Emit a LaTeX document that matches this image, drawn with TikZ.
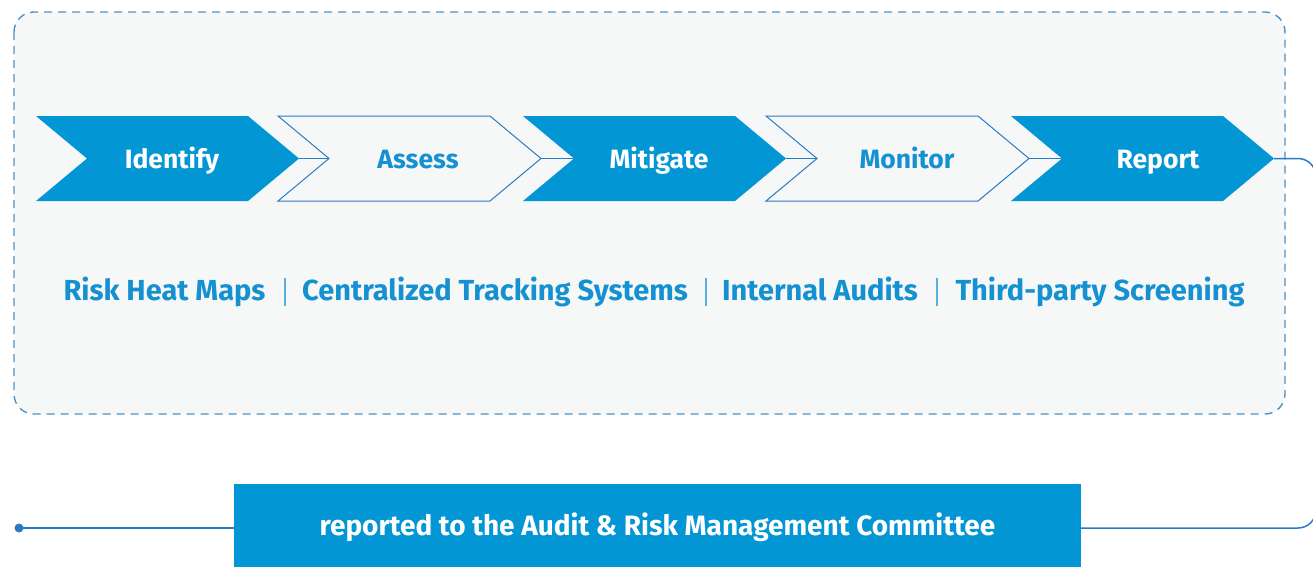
\documentclass[tikz,border=0pt]{standalone}
\usepackage{fontspec}
\setmainfont{Fira Sans}
\definecolor{bg}{HTML}{F6F8F8}
\definecolor{fillblue}{HTML}{0396D4}
\definecolor{lineblue}{HTML}{2A7BC4}
\definecolor{textblue}{HTML}{1590D1}
\definecolor{dashblue}{HTML}{4F92C9}
\definecolor{sepblue}{HTML}{5AAEDD}
\newcommand\mychev[3]{%
  \draw[#2] (#1,116) -- ++(212,0) -- ++(51,42.5) -- ++(-51,42.5) -- ++(-212,0) -- ++(51,-42.5) -- cycle;
  \coordinate (#3-tip) at ({#1+263},158.5);
  \coordinate (#3-notch) at ({#1+51},158.5);}
\begin{document}
\begin{tikzpicture}[x=1pt,y=-1pt,
  filledchev/.style={fill=fillblue,draw=none},
  outlinechev/.style={draw=lineblue,line width=1pt,fill=bg},
  chevtextw/.style={anchor=base,font=\fontsize{26.5}{30}\selectfont\bfseries,text=white},
  chevtextb/.style={anchor=base,font=\fontsize{26.5}{30}\selectfont\bfseries,text=textblue},
  tooltext/.style={anchor=base,font=\fontsize{29}{33}\selectfont\bfseries,text=textblue},
  joinline/.style={draw=lineblue,line width=1pt},
  flowline/.style={draw=lineblue,line width=1.5pt},
  sepline/.style={draw=sepblue,line width=1.2pt}]
\useasboundingbox (0,0) rectangle (1313,566);
\fill[white] (0,0) rectangle (1313,566);
% dashed panel
\draw[dashblue,fill=bg,line width=1.4pt,dash pattern=on 8pt off 6pt,rounded corners=20pt]
  (14,12) rectangle (1285,414);
% chevrons
\mychev{36}{filledchev}{c1}
\mychev{278}{outlinechev}{c2}
\mychev{523}{filledchev}{c3}
\mychev{766}{outlinechev}{c4}
\mychev{1011}{filledchev}{c5}
\draw[joinline] (c1-tip) -- (c2-notch);
\draw[joinline] (c2-tip) -- (c3-notch);
\draw[joinline] (c3-tip) -- (c4-notch);
\draw[joinline] (c4-tip) -- (c5-notch);
\node[chevtextw] (t1) at (172,168) {Identify};
\node[chevtextb] (t2) at (418,168) {Assess};
\node[chevtextw] (t3) at (659,168) {Mitigate};
\node[chevtextb] (t4) at (907,168) {Monitor};
\node[chevtextw] (t5) at (1158,168) {Report};
% tools
\node[tooltext] (k1) at (164.5,300) {Risk Heat Maps};
\node[tooltext] (k2) at (495,300) {Centralized Tracking Systems};
\node[tooltext] (k3) at (820,300) {Internal Audits};
\node[tooltext] (k4) at (1100,300) {Third-party Screening};
\coordinate (s1a) at (285,278); \coordinate (s1b) at (285,306);
\coordinate (s2a) at (706,278); \coordinate (s2b) at (706,306);
\coordinate (s3a) at (937,278); \coordinate (s3b) at (937,306);
\draw[sepline] (s1a) -- (s1b);
\draw[sepline] (s2a) -- (s2b);
\draw[sepline] (s3a) -- (s3b);
% bottom
\node[fill=fillblue,minimum width=847pt,minimum height=88pt,inner sep=0pt] (box) at (657.5,528) {};
\node[anchor=base,text=white,font=\fontsize{28}{32}\selectfont\bfseries] (boxtext) at (657.5,535)
  {reported to the Audit \& Risk Management Committee};
\coordinate (dot) at (19,528);
\fill[lineblue] (dot) circle (4.5pt);
\draw[flowline] (dot) -- (box.west);
\coordinate (rc1) at (1316,158.5);
\coordinate (rc2) at (1316,528);
\draw[flowline,rounded corners=18pt] (c5-tip) -- (rc1) -- (rc2) -- (box.east);
\end{tikzpicture}
\end{document}
